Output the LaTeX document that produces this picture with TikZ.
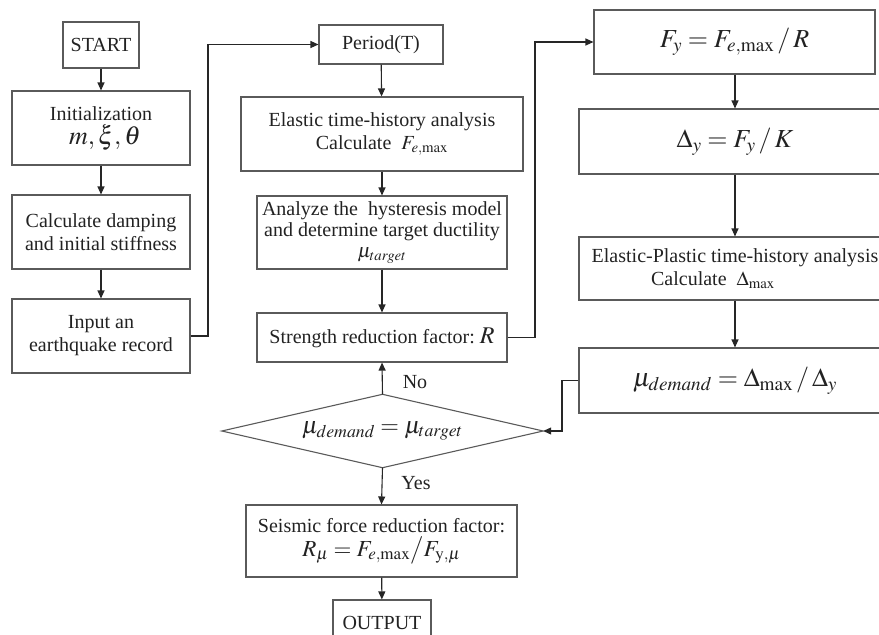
\documentclass[tikz,border=0pt]{standalone}
\usepackage{mathptmx}
\usepackage{fontspec}
\setmainfont{Liberation Serif}
\usetikzlibrary{arrows.meta}
\definecolor{boxline}{HTML}{5A5A5A}
\definecolor{txt}{HTML}{222222}
\tikzset{
  base/.style={font=\fontsize{20}{23}\selectfont, text=txt},
  box/.style={base, draw=boxline, line width=1.1pt, rectangle, inner sep=0pt, align=center},
  flow/.style={draw=black!85, line width=1.1pt, -{Triangle[length=8pt,width=7pt]}},
  lbl/.style={base, inner sep=0pt}
}
\newcommand{\bigmath}{\fontsize{26}{28}\selectfont}
\begin{document}
\begin{tikzpicture}[x=1pt,y=-1pt]
\useasboundingbox (0,0) rectangle (879,635);
% left column
\node[box, minimum width=76, minimum height=46] (start) at (101,45) {START};
\node[box, minimum width=178, minimum height=74] (init) at (101,128) {Initialization\\[1pt]\hspace*{8pt}{\bigmath $m,\xi,\theta$}};
\node[box, minimum width=178, minimum height=74] (damp) at (101,232) {Calculate damping\\and initial stiffness};
\node[box, minimum width=178, minimum height=74] (input) at (101,336) {Input an\\earthquake record};
% middle column
\node[box, minimum width=124, minimum height=39] (period) at (381,44.5) {Period(T)};
\node[box, minimum width=282, minimum height=74] (elastic) at (382,134) {Elastic time-history analysis\\Calculate\ \ $F_{e,\max}$};
\node[box, minimum width=250, minimum height=73, font=\fontsize{20}{21}\selectfont] (analyze) at (382,232.5) {Analyze the\ \ hysteresis model\\and determine target ductility\\$\mu_{target}$};
\node[box, minimum width=250, minimum height=49] (strength) at (382,337.5) {Strength reduction factor:\ {\fontsize{24}{26}\selectfont$R$}};
\node[minimum width=321, minimum height=73, inner sep=0pt] (dec) at (382.5,431) {};
\draw[boxline, line width=1.1pt] (dec.west) -- (dec.north) -- (dec.east) -- (dec.south) -- cycle;
\node[lbl] (dectext) at (dec.center) {\fontsize{24}{26}\selectfont $\mu_{demand}=\mu_{target}$};
\node[box, minimum width=271, minimum height=72] (seismic) at (381.5,541) {Seismic force reduction factor:\\[1pt]{\fontsize{23}{25}\selectfont $R_{\mu}=F_{e,\max}\big/F_{\mathrm{y},\mu}$}};
\node[box, minimum width=98, minimum height=45] (output) at (382,622.5) {OUTPUT};
% right column
\node[box, minimum width=281, minimum height=64] (fy) at (734.5,42) {\bigmath $F_y=F_{e,\max}\,/\,R$};
\node[box, minimum width=312, minimum height=65] (dy) at (735,141.5) {\bigmath $\Delta_y=F_y\,/\,K$};
\node[box, minimum width=312, minimum height=63] (ep) at (735,268.5) {Elastic-Plastic time-history analysis\\Calculate\ \ $\Delta_{\max}$\hspace*{44pt}};
\node[box, minimum width=312, minimum height=65] (mud) at (735,380.5) {\bigmath $\mu_{demand}=\Delta_{\max}\,/\,\Delta_y$};
% labels
\node[lbl] (no) at (415,382) {No};
\node[lbl] (yes) at (416,483) {Yes};
% connectors
\draw[flow] (start) -- (init);
\draw[flow] (init) -- (damp);
\draw[flow] (damp) -- (input);
\draw[flow] (input.east) -- (208,336) |- (period.west);
\draw[flow] (period) -- (elastic);
\draw[flow] (elastic) -- (analyze);
\draw[flow] (analyze) -- (strength);
\draw[flow] (strength.east) -- (535,337.5) |- (fy.west);
\draw[flow] (fy.south -| dy.north) -- (dy.north);
\draw[flow] (dy) -- (ep);
\draw[flow] (ep) -- (mud);
\draw[flow] (mud.west) -- (562,380.5) |- (dec.east);
\draw[flow] (dec.north) -- (strength.south);
\draw[flow] (dec.south) -- (seismic.north);
\draw[flow] (seismic) -- (output);
\end{tikzpicture}
\end{document}
